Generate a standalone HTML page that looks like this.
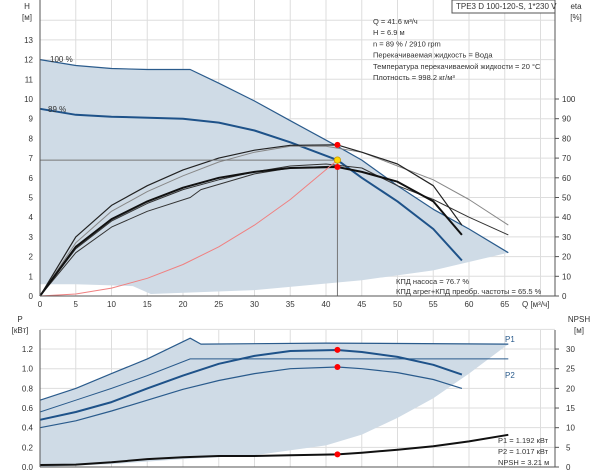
<!DOCTYPE html>
<html><head><meta charset="utf-8"><style>
body{margin:0;background:#fff;}
svg{display:block;font-family:"Liberation Sans","DejaVu Sans",sans-serif;}
</style></head><body>
<svg id="c" width="600" height="474" viewBox="0 0 600 474"></svg>
<script>
// ---- data ----
const qTicks=[0,5,10,15,20,25,30,35,40,45,50,55,60,65];
const hTicks=[0,1,2,3,4,5,6,7,8,9,10,11,12,13];
const etaTicks=[0,10,20,30,40,50,60,70,80,90,100];
const pTicks=[0.0,0.2,0.4,0.6,0.8,1.0,1.2];
const npshTicks=[0,5,10,15,20,25,30];
const envTopQ=[0,5,10,15,21,25,30,35,41.6,45,50,55,60,65.5];
const envTopH=[12.0,11.7,11.55,11.5,11.5,10.8,9.9,8.9,7.6,6.9,5.6,4.4,3.4,2.2];
const envBotQ=[65.5,55,45,30,15.5,13,5,0];
const envBotH=[2.2,1.3,0.8,0.3,0.1,0.5,0.6,0.6];
const h89Q=[0,5,10,20,25,30,35,41.6,45,50,55,59];
const h89H=[9.5,9.2,9.1,9.0,8.8,8.4,7.8,6.9,6.0,4.8,3.4,1.8];
const etaQ=[0,5,10,15,20,25,30,35,41.6,45,50,55,59];
const etaA=[0,3.0,4.6,5.6,6.4,7.0,7.4,7.65,7.67,7.3,6.7,5.6,3.6];
const etaD=[0,2.5,3.9,4.8,5.5,6.0,6.3,6.5,6.55,6.3,5.8,4.8,3.1];
const etaBQ=[0,5,10,15,20,25,30,35,40,45,50,55,60,65.5];
const etaB=[0,2.7,4.3,5.3,6.1,6.8,7.3,7.6,7.6,7.3,6.6,5.9,4.9,3.6];
const etaC=[0,2.4,3.8,4.7,5.4,5.9,6.3,6.6,6.7,6.5,5.6,4.9,4.0,3.1];
const etaKQ=[0,5,10,15,21,22.5,30,35,41.6];
const etaK=[0,2.2,3.5,4.3,5.0,5.4,6.2,6.5,6.6];
const sysQ=[0,5,10,15,20,25,30,35,41.6];
const sysH=[0,0.1,0.4,0.9,1.6,2.5,3.6,4.9,6.9];
const opQ=41.6, opH=6.9, opEta1=7.67, opEta2=6.55;
const pEnvTopQ=[0,5,10,15,21,22.5,40,65.5];
const pEnvTop=[0.68,0.8,0.95,1.1,1.31,1.25,1.26,1.25];
const pEnvBotQ=[65.5,60,55,50,45,40,30,20,10,0];
const pEnvBot=[1.25,0.95,0.7,0.5,0.33,0.22,0.12,0.08,0.03,0.0];
const p2maxQ=[0,5,10,15,21,65.5];
const p2max=[0.56,0.68,0.8,0.93,1.1,1.1];
const pQ=[0,5,10,15,20,25,30,35,41.6,45,50,55,59];
const p1=[0.48,0.56,0.66,0.8,0.93,1.05,1.13,1.18,1.19,1.17,1.12,1.04,0.94];
const p2=[0.4,0.47,0.57,0.68,0.79,0.88,0.95,1.0,1.017,1.0,0.96,0.89,0.8];
const npQ=[0,5,10,15,20,25,30,35,41.6,45,50,55,60,65.5];
const npsh=[0.5,0.6,1.2,2.0,2.5,2.8,2.8,3.0,3.21,3.6,4.4,5.3,6.5,8.2];
const opP1=1.192, opP2=1.017, opNp=3.21;
// ---- axes ----
const X=q=>40+q*7.15;
const YH=h=>296-h*19.7;
const YE=e=>YH(e/10);
const YP=p=>467-p*98.3;
const YN=n=>YP(n/25);
const svg=document.getElementById('c');
const NS='http://www.w3.org/2000/svg';
function mk(t,a,name,par){const e=document.createElementNS(NS,t);for(const k in a)e.setAttribute(k,a[k]);


(par||svg).appendChild(e);return e;}
function txt(x,y,s,name,anchor,size,fill){const e=mk('text',{x:x,y:y,'font-size':size||8,fill:fill||'#333','text-anchor':anchor||'start'},name);e.textContent=s;return e;}
function pts(qs,vs,fy){return qs.map((q,i)=>X(q).toFixed(1)+','+fy(vs[i]).toFixed(1));}
function line(qs,vs,fy,st,w,name){return mk('polyline',{points:pts(qs,vs,fy).join(' '),fill:'none',stroke:st,'stroke-width':w,'stroke-linejoin':'round'},name);}
// grids
for(const q of qTicks.concat([70])){mk('line',{x1:X(q),x2:X(q),y1:0,y2:296,stroke:'#ddd','stroke-width':1},'grid-v');mk('line',{x1:X(q),x2:X(q),y1:330,y2:467,stroke:'#ddd','stroke-width':1},'grid-v-p');}
for(const h of hTicks.concat([14])){mk('line',{x1:40,x2:555,y1:YH(h),y2:YH(h),stroke:'#ddd','stroke-width':1},'grid-h');}
for(const p of pTicks.concat([1.4])){mk('line',{x1:40,x2:555,y1:YP(p),y2:YP(p),stroke:'#ddd','stroke-width':1},'grid-h-p');}
// envelopes
mk('polygon',{points:pts(envTopQ,envTopH,YH).concat(pts(envBotQ,envBotH,YH)).join(' '),fill:'#cfdbe6',stroke:'none'},'operating-range');
line(envTopQ,envTopH,YH,'#2a5b8c',1.2,'curve-100-percent');
mk('polygon',{points:pts(pEnvTopQ,pEnvTop,YP).concat(pts(pEnvBotQ,pEnvBot,YP)).join(' '),fill:'#cfdbe6',stroke:'none'},'power-range');
line(pEnvTopQ,pEnvTop,YP,'#2a5b8c',1.2,'p1-max-curve');
line(p2maxQ,p2max,YP,'#2a5b8c',1,'p2-max-curve');
// top curves
line(h89Q,h89H,YH,'#1e5289',2,'curve-89-percent');
line(etaBQ,etaB,YH,'#888',1,'eta-curve-b');
line(etaBQ,etaC,YH,'#333',1,'eta-curve-c');
line(etaQ,etaA,YH,'#222',1.2,'eta-curve-a');
line(etaKQ,etaK,YH,'#333',1,'eta-curve-k');
line(etaQ,etaD,YH,'#111',2,'eta-curve-total');
line(sysQ,sysH,YH,'#f08080',1,'system-curve');
mk('line',{x1:40,x2:X(opQ),y1:YH(opH),y2:YH(opH),stroke:'#777','stroke-width':1},'duty-h-line');
mk('line',{x1:X(opQ),x2:X(opQ),y1:YH(opH),y2:296,stroke:'#777','stroke-width':1},'duty-v-line');
mk('circle',{cx:X(opQ),cy:YH(opEta1),r:3,fill:'#f00'},'eta-pump-point');
mk('circle',{cx:X(opQ),cy:YH(opEta2),r:3,fill:'#f00'},'eta-total-point');
mk('circle',{cx:X(opQ),cy:YH(opH),r:3.2,fill:'#ffd700',stroke:'#c90','stroke-width':0.8},'duty-point');
// bottom curves
line(pQ,p1,YP,'#1e5289',2,'p1-curve');
line(pQ,p2,YP,'#2a5b8c',1.2,'p2-curve');
line(npQ,npsh,YN,'#111',2,'npsh-curve');
mk('circle',{cx:X(opQ),cy:YP(opP1),r:3,fill:'#f00'},'p1-point');
mk('circle',{cx:X(opQ),cy:YP(opP2),r:3,fill:'#f00'},'p2-point');
mk('circle',{cx:X(opQ),cy:YN(opNp),r:3,fill:'#f00'},'npsh-point');
// frames
mk('line',{x1:40,x2:40,y1:0,y2:296,stroke:'#555'},'h-axis-line');
mk('line',{x1:555,x2:555,y1:0,y2:296,stroke:'#555'},'eta-axis-line');
mk('line',{x1:40,x2:555,y1:296,y2:296,stroke:'#555'},'q-axis-line');
mk('line',{x1:40,x2:40,y1:330,y2:467,stroke:'#555'},'p-axis-line');
mk('line',{x1:555,x2:555,y1:330,y2:467,stroke:'#555'},'npsh-axis-line');
mk('line',{x1:40,x2:555,y1:467,y2:467,stroke:'#555'},'p-bottom-line');
// tick labels
hTicks.forEach(h=>{txt(33,YH(h)+3,String(h),'h-tick','end');});
etaTicks.forEach(e=>{txt(562,YE(e)+3,String(e),'eta-tick');mk('line',{x1:555,x2:559,y1:YE(e),y2:YE(e),stroke:'#555'},'eta-tickmark');});
qTicks.forEach(q=>{txt(X(q),307,String(q),'q-tick','middle');});
pTicks.forEach(p=>{txt(33,YP(p)+3,p.toFixed(1),'p-tick','end');});
npshTicks.forEach(n=>{txt(566,YN(n)+3,String(n),'npsh-tick');mk('line',{x1:555,x2:559,y1:YN(n),y2:YN(n),stroke:'#555'},'npsh-tickmark');});
txt(522,307,'Q [м³/ч]','q-axis-title');
txt(27,9,'H','h-axis-title','middle');txt(27,20,'[м]','h-axis-unit','middle');
txt(576,9,'eta','eta-axis-title','middle');txt(576,20,'[%]','eta-axis-unit','middle');
txt(20,322,'P','p-axis-title','middle');txt(20,333,'[кВт]','p-axis-unit','middle');
txt(579,322,'NPSH','npsh-axis-title','middle');txt(579,333,'[м]','npsh-axis-unit','middle');
txt(50,62,'100 %','label-100');txt(48,112,'89 %','label-89');
txt(505,342,'P1','label-p1','start',8,'#2a5b8c');txt(505,378,'P2','label-p2','start',8,'#2a5b8c');
// title box
mk('rect',{x:452,y:0,width:103,height:13,fill:'#fff',stroke:'#555'},'title-box');
txt(456,9,'TPE3 D 100-120-S, 1*230 V','title');
const info=['Q = 41.6 м³/ч','H = 6.9 м','n = 89 % / 2910 rpm','Перекачиваемая жидкость = Вода','Температура перекачиваемой жидкости = 20 °C','Плотность = 998.2 кг/м³'];
info.forEach((s,i)=>txt(373,24+i*11.2,s,'info-line','start',7.5));
txt(396,284,'КПД насоса = 76.7 %','pump-eff-text','start',7.5);
txt(396,294,'КПД агрег+КПД преобр. частоты = 65.5 %','total-eff-text','start',7.5);
txt(498,443,'P1 = 1.192 кВт','p1-text','start',7.5);
txt(498,454,'P2 = 1.017 кВт','p2-text','start',7.5);
txt(498,465,'NPSH = 3.21 м','npsh-text','start',7.5);
</script>
</body></html>
